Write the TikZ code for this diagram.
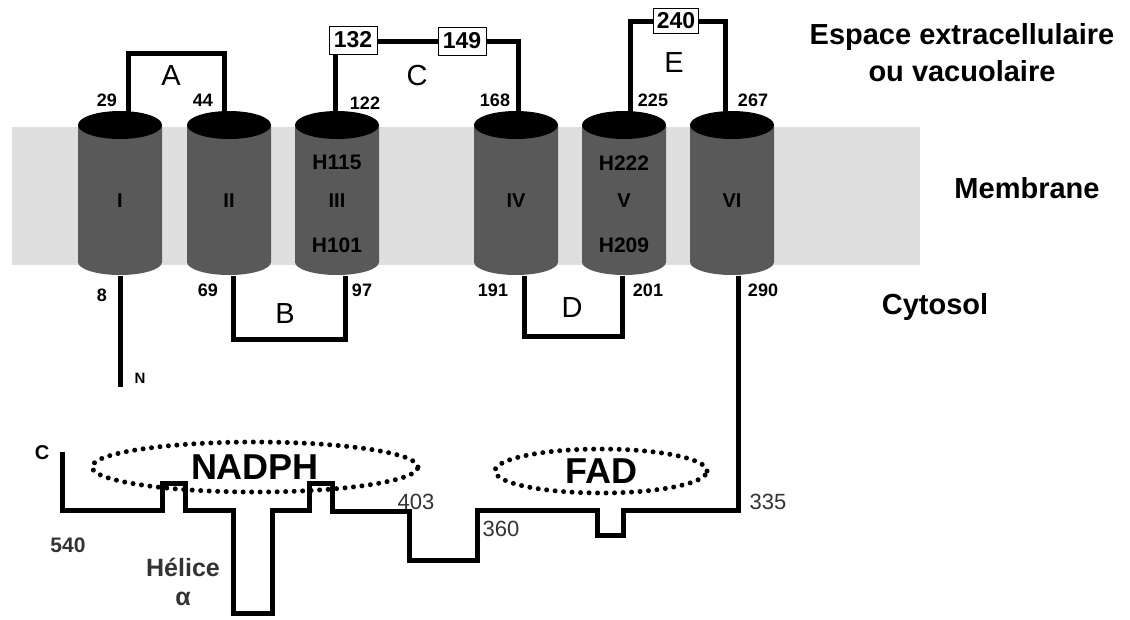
\documentclass[tikz,border=0pt]{standalone}
\usepackage{fontspec}
\setmainfont{Liberation Sans}
\usetikzlibrary{shapes.geometric}
\pgfdeclarelayer{back}
\pgfdeclarelayer{lines}
\pgfsetlayers{back,lines,main}

\begin{document}
\begin{tikzpicture}[x=1pt,y=-1pt]
\tikzstyle{chainline}=[line width=5pt,black]
\tikzstyle{helix}=[minimum width=84pt,minimum height=150pt,inner sep=0pt,font=\bfseries\fontsize{20}{20}\selectfont]
\tikzstyle{hislabel}=[inner sep=0pt,font=\bfseries\fontsize{21}{21}\selectfont]
\tikzstyle{resnum}=[inner sep=0pt,font=\bfseries\fontsize{18}{18}\selectfont]
\tikzstyle{resnumlow}=[inner sep=0pt,text=black!80,font=\fontsize{22}{22}\selectfont]
\tikzstyle{resbox}=[draw,thick,fill=white,minimum width=48pt,minimum height=28pt,inner sep=1pt,font=\bfseries\fontsize{23}{23}\selectfont]
\tikzstyle{loopname}=[inner sep=0pt,font=\fontsize{29}{29}\selectfont]
\tikzstyle{cofactor}=[ellipse,draw,line width=5pt,dash pattern=on 0pt off 8.5pt,line cap=round,inner sep=0pt,font=\bfseries\fontsize{36}{36}\selectfont]
\tikzstyle{region}=[align=center,font=\bfseries\fontsize{29}{37}\selectfont]

\useasboundingbox (0,0) rectangle (1130,619);
\begin{pgfonlayer}{back}
\fill[gray!25] (12,127) rectangle (920,265);
\end{pgfonlayer}

\foreach \cx/\nm/\lab in {120/h1/I,229/h2/II,337/h3/III,516/h4/IV,624/h5/V,732/h6/VI}{
  \fill[black!65] (\cx-42,125) -- (\cx-42,262) arc[start angle=180,end angle=0,x radius=42,y radius=13] -- (\cx+42,125) -- cycle;
  \fill (\cx,125) ellipse[x radius=42,y radius=14];
  \node[helix] (\nm) at (\cx,201) {\lab};
}
\node[hislabel] (h115) at (337,162) {H115};
\node[hislabel] (h101) at (337,245) {H101};
\node[hislabel] (h222) at (624,163) {H222};
\node[hislabel] (h209) at (624,245) {H209};

\node[resbox] (b132) at (353,40) {132};
\node[resbox] (b149) at (462,41) {149};
\node[resbox,minimum width=45pt,minimum height=25pt] (b240) at (676,21) {240};

\node[resnum] (n29) at (107,100) {29};
\node[resnum] (n44) at (203,100) {44};
\node[resnum] (n122) at (365,103) {122};
\node[resnum] (n168) at (495,100) {168};
\node[resnum] (n225) at (653,100) {225};
\node[resnum] (n267) at (753,100) {267};
\node[resnum] (n8) at (102,295) {8};
\node[resnum] (n69) at (208,290) {69};
\node[resnum] (n97) at (362,290) {97};
\node[resnum] (n191) at (493,290) {191};
\node[resnum] (n201) at (648,290) {201};
\node[resnum] (n290) at (763,290) {290};

\node[loopname] (la) at (171,76) {A};
\node[loopname] (lb) at (285,314) {B};
\node[loopname] (lc) at (417,76) {C};
\node[loopname] (ld) at (572,308) {D};
\node[loopname] (le) at (674,63) {E};

\coordinate (nterm) at (120,387);
\coordinate (cterm) at (62,452);
\node[resnum,font=\bfseries\fontsize{15}{15}\selectfont] (nlab) at (140,378) {N};
\node[resnum,font=\bfseries\fontsize{20}{20}\selectfont] (clab) at (42,453) {C};

\node[cofactor,minimum width=326pt,minimum height=50pt] (nadph) at (255,467) {NADPH};
\node[cofactor,minimum width=212pt,minimum height=44pt] (fad) at (601,471) {FAD};

\node[resnum,text=black!80,font=\bfseries\fontsize{21}{21}\selectfont] (n540) at (68,545) {540};
\node[resnumlow] (n403) at (416,502) {403};
\node[resnumlow] (n360) at (501,529) {360};
\node[resnumlow] (n335) at (768,502) {335};
\node[hislabel,text=black!80,font=\bfseries\fontsize{25}{25}\selectfont,align=center] (helice) at (183,582) {Hélice\\[4pt]α};

\node[region] (extra) at (962,53) {Espace extracellulaire\\ou vacuolaire};
\node[region] (memb) at (1027,188) {Membrane};
\node[region] (cyto) at (935,307) {Cytosol};

\begin{pgfonlayer}{lines}
\draw[chainline] ([xshift=8pt]h1.north) -- ++(0,-72) -| ([xshift=-5pt]h2.north);
\draw[chainline] ([xshift=-2pt]h3.north) |- (b149) -| ([xshift=2pt]h4.north);
\draw[chainline] ([xshift=6pt]h5.north) |- (b240) -| ([xshift=-7pt]h6.north);
\draw[chainline] ([xshift=4pt]h2.south) -- ++(0,63) -| ([xshift=8pt]h3.south);
\draw[chainline] ([xshift=8pt]h4.south) -- ++(0,60) -| ([xshift=-2pt]h5.south);
\draw[chainline] (h1.south) -- (nterm);
\draw[chainline] ([xshift=6pt]h6.south) -- (738,510) -- (623,510) -- (623,535) -- (597,535) -- (597,510) -- (477,510) -- (477,560) -- (409,560) -- (409,511) -- (332,511) -- (332,483) -- (309,483) -- (309,510) -- (272,510) -- (272,613) -- (233,613) -- (233,510) -- (185,510) -- (185,483) -- (162,483) -- (162,510) -- (62,510) -- (cterm);
\end{pgfonlayer}
\end{tikzpicture}
\end{document}
